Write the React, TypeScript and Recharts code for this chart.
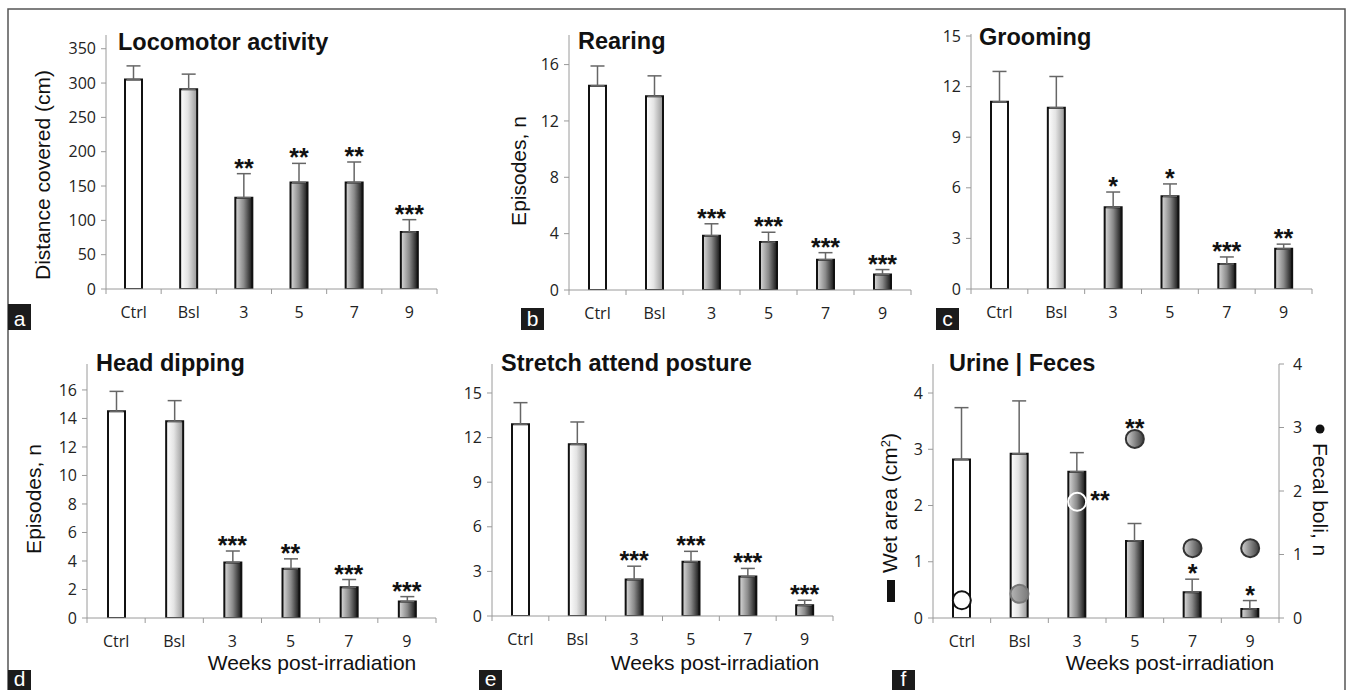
import { ComposedChart, Bar, ErrorBar, Cell, XAxis, YAxis, Scatter } from 'recharts'

const TICK_FONT = '"Open Sans", "DejaVu Sans", sans-serif'
const LABEL_FONT = '"Liberation Sans", Arial, sans-serif'
const AXIS = '#9a9a9a'
const INK = '#111'

const CATEGORIES = ['Ctrl', 'Bsl', '3', '5', '7', '9']

// a — locomotor activity
const locomotorMean = [305, 291, 133, 155, 155, 83]
const locomotorSem = [20, 22, 35, 28, 30, 18]
const locomotorStars = ['', '', '**', '**', '**', '***']
const locomotorTicks = [0, 50, 100, 150, 200, 250, 300, 350]

// b — rearing
const rearingMean = [14.5, 13.75, 3.85, 3.4, 2.15, 1.1]
const rearingSem = [1.4, 1.45, 0.85, 0.7, 0.5, 0.35]
const rearingStars = ['', '', '***', '***', '***', '***']
const rearingTicks = [0, 4, 8, 12, 16]

// c — grooming
const groomingMean = [11.1, 10.75, 4.85, 5.5, 1.48, 2.38]
const groomingSem = [1.8, 1.85, 0.9, 0.73, 0.42, 0.28]
const groomingStars = ['', '', '*', '*', '***', '**']
const groomingTicks = [0, 3, 6, 9, 12, 15]

// d — head dipping
const headDipMean = [14.5, 13.8, 3.9, 3.45, 2.15, 1.15]
const headDipSem = [1.4, 1.45, 0.8, 0.7, 0.55, 0.35]
const headDipStars = ['', '', '***', '**', '***', '***']
const headDipTicks = [0, 2, 4, 6, 8, 10, 12, 14, 16]

// e — stretch attend posture
const stretchMean = [12.9, 11.55, 2.45, 3.65, 2.65, 0.72]
const stretchSem = [1.45, 1.5, 0.9, 0.7, 0.55, 0.34]
const stretchStars = ['', '', '***', '***', '***', '***']
const stretchTicks = [0, 3, 6, 9, 12, 15]

// f — urine (wet area, left axis) | feces (fecal boli, right axis)
const wetAreaMean = [2.82, 2.92, 2.6, 1.37, 0.46, 0.16]
const wetAreaSem = [0.92, 0.94, 0.34, 0.31, 0.23, 0.15]
const wetAreaStars = ['', '', '', '', '*', '*']
const fecalBoli = [0.28, 0.38, 1.83, 2.82, 1.1, 1.1]
const fecalStars = ['', '', '**', '**', '', '']
const wetTicks = [0, 1, 2, 3, 4]
const boliTicks = [0, 1, 2, 3, 4]

const TICK_STYLE = { fill: '#222', fontSize: 16, fontFamily: TICK_FONT }
const STAR_STYLE = { fontFamily: LABEL_FONT, fontSize: 25, fontWeight: 700, fill: INK }

type Plot = { x0: number; y0: number; x1: number; y1: number }

interface PanelProps {
  id: string
  means: number[]
  sems: number[]
  stars: string[]
  ticks: number[]
  yMax: number
  plot: Plot
  boli?: number[]
  boliStars?: string[]
  rightTicks?: number[]
  rightMax?: number
}

function CatTick({ x, y, payload, index, band, count }: any) {
  return (
    <g>
      <line x1={x - band / 2} x2={x - band / 2} y1={y} y2={y + 5} stroke={AXIS} />
      {index === count - 1 && <line x1={x + band / 2} x2={x + band / 2} y1={y} y2={y + 5} stroke={AXIS} />}
      <text x={x} y={y + 29} textAnchor="middle" {...TICK_STYLE}>{payload.value}</text>
    </g>
  )
}

function StarMark(props: any) {
  const { cx, cy, payload } = props
  if (!payload?.star) return <g />
  return <text x={cx} y={cy + 3} textAnchor="middle" {...STAR_STYLE}>{payload.star}</text>
}

function fillFor(group: number, id: string) {
  if (group === 0) return '#ffffff'
  if (group === 1) return `url(#${id}-bsl)`
  return `url(#${id}-trt)`
}

function Panel({ id, means, sems, stars, ticks, yMax, plot, boli, boliStars, rightTicks, rightMax }: PanelProps) {
  const YW = 50
  const RW = boli ? 50 : 0
  const MR = boli ? 0 : 20
  const MT = 10
  const XH = 40
  const left = plot.x0 - YW
  const top = plot.y0 - MT
  const width = plot.x1 - left + MR + RW
  const height = plot.y1 - top + XH
  const band = (plot.x1 - plot.x0) / CATEGORIES.length

  const data = CATEGORIES.map((name, i) => ({
    name,
    group: Math.min(i, 2),
    mean: means[i],
    err: [0, sems[i]],
    star: stars[i],
    starPos: means[i] + sems[i],
    boli: boli ? boli[i] : 0,
    boliStar: boliStars ? boliStars[i] : '',
  }))

  const BoliMark = (props: any) => {
    const { cx, cy, payload } = props
    const inside = rightMax ? payload.boli / rightMax < payload.mean / yMax : false
    let fill = `url(#${id}-ctrt)`
    let stroke = '#333'
    if (payload.group === 0) { fill = '#ffffff'; stroke = INK }
    else if (payload.group === 1) { fill = `url(#${id}-cbsl)`; stroke = '#777' }
    else if (inside) { fill = 'none'; stroke = '#ffffff' }
    return (
      <g>
        <circle cx={cx} cy={cy} r={9} fill={fill} stroke={stroke} strokeWidth={2} />
        {payload.boliStar && (inside
          ? <text x={cx + 13} y={cy + 7} textAnchor="start" {...STAR_STYLE}>{payload.boliStar}</text>
          : <text x={cx} y={cy - 2} textAnchor="middle" {...STAR_STYLE}>{payload.boliStar}</text>)}
      </g>
    )
  }

  return (
    <div style={{ position: 'absolute', left, top }}>
      <ComposedChart width={width} height={height} data={data} margin={{ top: MT, right: MR, bottom: 0, left: 0 }}>
        <defs>
          <linearGradient id={`${id}-bsl`} x1="0" y1="0" x2="1" y2="0">
            <stop offset="0%" stopColor="#ffffff" />
            <stop offset="45%" stopColor="#e4e4e4" />
            <stop offset="100%" stopColor="#979797" />
          </linearGradient>
          <linearGradient id={`${id}-trt`} x1="0" y1="0" x2="1" y2="0">
            <stop offset="0%" stopColor="#dadada" />
            <stop offset="50%" stopColor="#8a8a8a" />
            <stop offset="100%" stopColor="#151515" />
          </linearGradient>
          <linearGradient id={`${id}-cbsl`} x1="0" y1="0" x2="1" y2="0">
            <stop offset="0%" stopColor="#b5b5b5" />
            <stop offset="100%" stopColor="#7a7a7a" />
          </linearGradient>
          <linearGradient id={`${id}-ctrt`} x1="0" y1="0" x2="1" y2="0">
            <stop offset="0%" stopColor="#d4d4d4" />
            <stop offset="100%" stopColor="#3c3c3c" />
          </linearGradient>
        </defs>
        <XAxis
          dataKey="name"
          height={XH}
          stroke={AXIS}
          tickLine={false}
          tickSize={0}
          tickMargin={0}
          interval={0}
          tick={(p: any) => <CatTick {...p} band={band} count={CATEGORIES.length} />}
        />
        <YAxis
          yAxisId="left"
          width={YW}
          domain={[0, yMax]}
          ticks={ticks}
          interval={0}
          allowDataOverflow
          stroke={AXIS}
          tickSize={5}
          tickMargin={5}
          tick={TICK_STYLE}
        />
        {boli && (
          <YAxis
            yAxisId="right"
            orientation="right"
            width={RW}
            domain={[0, rightMax ?? 4]}
            ticks={rightTicks}
            interval={0}
            allowDataOverflow
            stroke={AXIS}
            tickSize={5}
            tickMargin={9}
            tick={TICK_STYLE}
          />
        )}
        <Bar yAxisId="left" dataKey="mean" barSize={17} stroke={INK} strokeWidth={2} isAnimationActive={false}>
          {data.map((d, i) => <Cell key={i} fill={fillFor(d.group, id)} />)}
          <ErrorBar dataKey="err" direction="y" width={7} stroke="#666" strokeWidth={1.5} isAnimationActive={false} />
        </Bar>
        <Scatter yAxisId="left" dataKey="starPos" shape={StarMark} isAnimationActive={false} />
        {boli && <Scatter yAxisId="right" dataKey="boli" shape={BoliMark} isAnimationActive={false} />}
      </ComposedChart>
    </div>
  )
}

function Letter({ x, y, w, h, ch }: { x: number; y: number; w: number; h: number; ch: string }) {
  return (
    <g>
      <rect x={x} y={y} width={w} height={h} fill="#1b1b1b" />
      <text x={x + w / 2} y={y + h - 4} textAnchor="middle" fill="#fff" fontSize={21} fontFamily={LABEL_FONT}>{ch}</text>
    </g>
  )
}

const TITLE = { fontFamily: LABEL_FONT, fontSize: 23.5, fontWeight: 700, fill: INK }
const ALABEL = { fontFamily: LABEL_FONT, fontSize: 21, fill: INK }

export default function App() {
  return (
    <div style={{ position: 'absolute', left: 0, top: 0, width: 1346, height: 690, background: '#fff', overflow: 'hidden' }}>
      <Panel id="a" means={locomotorMean} sems={locomotorSem} stars={locomotorStars} ticks={locomotorTicks}
        yMax={370} plot={{ x0: 106, y0: 35, x1: 437, y1: 289 }} />
      <Panel id="b" means={rearingMean} sems={rearingSem} stars={rearingStars} ticks={rearingTicks}
        yMax={18.1} plot={{ x0: 569, y0: 35, x1: 911, y1: 290 }} />
      <Panel id="c" means={groomingMean} sems={groomingSem} stars={groomingStars} ticks={groomingTicks}
        yMax={15.12} plot={{ x0: 971, y0: 34, x1: 1312, y1: 289 }} />
      <Panel id="d" means={headDipMean} sems={headDipSem} stars={headDipStars} ticks={headDipTicks}
        yMax={17.82} plot={{ x0: 87, y0: 364, x1: 436, y1: 618 }} />
      <Panel id="e" means={stretchMean} sems={stretchSem} stars={stretchStars} ticks={stretchTicks}
        yMax={16.95} plot={{ x0: 492, y0: 364, x1: 833, y1: 616 }} />
      <Panel id="f" means={wetAreaMean} sems={wetAreaSem} stars={wetAreaStars} ticks={wetTicks}
        yMax={4.516} plot={{ x0: 933, y0: 364, x1: 1279, y1: 618 }}
        boli={fecalBoli} boliStars={fecalStars} rightTicks={boliTicks} rightMax={4} />

      <svg width={1346} height={690} style={{ position: 'absolute', left: 0, top: 0, pointerEvents: 'none' }}>
        <polyline points="8,690 8,9 1345,9 1345,690" fill="none" stroke="#555" strokeWidth={1.5} />

        <text x={118} y={50} {...TITLE}>Locomotor activity</text>
        <text x={578} y={49} {...TITLE}>Rearing</text>
        <text x={979} y={45} {...TITLE}>Grooming</text>
        <text x={96} y={371} {...TITLE}>Head dipping</text>
        <text x={501} y={371} {...TITLE}>Stretch attend posture</text>
        <text x={949} y={371} {...TITLE}>Urine | Feces</text>

        <text transform="translate(50,175) rotate(-90)" textAnchor="middle" {...ALABEL}>Distance covered (cm)</text>
        <text transform="translate(526,171) rotate(-90)" textAnchor="middle" {...ALABEL}>Episodes, n</text>
        <text transform="translate(41,499) rotate(-90)" textAnchor="middle" {...ALABEL}>Episodes, n</text>
        <rect x={887} y={580} width={8} height={22} fill={INK} />
        <text transform="translate(897,573) rotate(-90)" textAnchor="start" {...ALABEL}>
          Wet area (cm<tspan fontSize={13} dy={-7}>2</tspan><tspan dy={7}>)</tspan>
        </text>
        <circle cx={1320} cy={429} r={4.5} fill={INK} />
        <text transform="translate(1313,443) rotate(90)" textAnchor="start" {...ALABEL}>Fecal boli, n</text>

        <text x={312} y={670} textAnchor="middle" {...ALABEL}>Weeks post-irradiation</text>
        <text x={715} y={670} textAnchor="middle" {...ALABEL}>Weeks post-irradiation</text>
        <text x={1170} y={670} textAnchor="middle" {...ALABEL}>Weeks post-irradiation</text>

        <Letter x={8} y={304} w={23} h={26} ch="a" />
        <Letter x={521} y={308} w={23} h={22} ch="b" />
        <Letter x={936} y={308} w={23} h={22} ch="c" />
        <Letter x={8} y={670} w={23} h={20} ch="d" />
        <Letter x={479} y={670} w={23} h={20} ch="e" />
        <Letter x={892} y={670} w={23} h={20} ch="f" />
      </svg>
    </div>
  )
}
